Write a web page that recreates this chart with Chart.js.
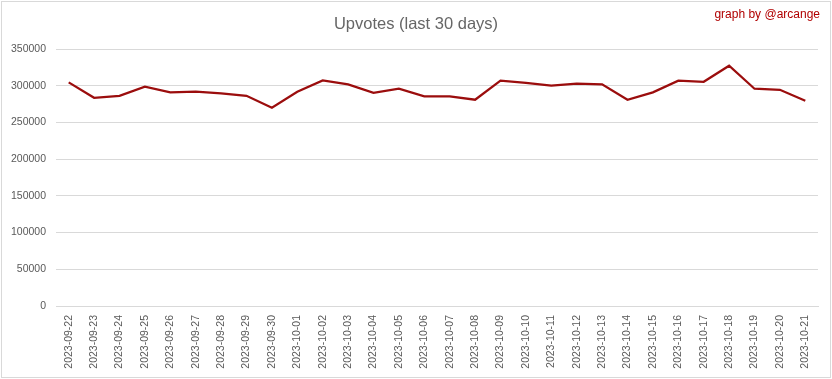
<!DOCTYPE html>
<html>
<head>
<meta charset="utf-8">
<script src="https://cdn.jsdelivr.net/npm/chart.js@4.4.0/dist/chart.umd.min.js"></script>
<style>
  body { margin: 0; background: #fff; }
  #wrap { width: 832px; height: 379px; }
</style>
</head>
<body>
<div id="wrap"><canvas id="upvotes" width="832" height="379"></canvas></div>
<script>
// Upvotes per day
var days = ["2023-09-22", "2023-09-23", "2023-09-24", "2023-09-25", "2023-09-26", "2023-09-27",
    "2023-09-28", "2023-09-29", "2023-09-30", "2023-10-01", "2023-10-02", "2023-10-03",
    "2023-10-04", "2023-10-05", "2023-10-06", "2023-10-07", "2023-10-08", "2023-10-09",
    "2023-10-10", "2023-10-11", "2023-10-12", "2023-10-13", "2023-10-14", "2023-10-15",
    "2023-10-16", "2023-10-17", "2023-10-18", "2023-10-19", "2023-10-20", "2023-10-21"];
var upvotes = [304500, 283600, 286300, 298600, 290900, 291800,
    289500, 286300, 270000, 291800, 307200, 301800,
    290400, 295900, 285400, 285400, 280900, 306800,
    304000, 300000, 302700, 301800, 280900, 290900,
    306800, 305400, 327200, 295900, 294500, 279500];
var yMax = 350000;
var yStep = 50000;

var titleText = "Upvotes (last 30 days)";
var creditText = "graph by @arcange";

// title, credit and outer frame
var decorations = {
    id: "decorations",
    afterDraw: function (chart) {
        var ctx = chart.ctx;
        ctx.save();
        ctx.strokeStyle = "#d9d9d9";
        ctx.lineWidth = 1;
        ctx.strokeRect(1.5, 1.5, 829, 376);

        ctx.fillStyle = "#666666";
        ctx.font = "16.5px 'Liberation Sans', Arial, sans-serif";
        ctx.textAlign = "center";
        ctx.textBaseline = "middle";
        ctx.fillText(titleText, 416, 24);

        ctx.fillStyle = "#b00000";
        ctx.font = "12px 'Liberation Sans', Arial, sans-serif";
        ctx.textAlign = "right";
        ctx.fillText(creditText, 820, 15);
        ctx.restore();
    }
};

new Chart(document.getElementById("upvotes"), {
    type: "line",
    data: {
        labels: days,
        datasets: [{
            data: upvotes,
            borderColor: "#9b0d0d",
            borderWidth: 2.25,
            pointRadius: 0,
            tension: 0,
            fill: false
        }]
    },
    options: {
        responsive: false,
        animation: false,
        layout: { padding: { left: 0, right: 14, top: 49, bottom: 0 } },
        plugins: {
            legend: { display: false },
            tooltip: { enabled: false }
        },
        scales: {
            x: {
                offset: true,
                grid: { display: false, drawTicks: false },
                border: { color: "#d9d9d9" },
                ticks: {
                    autoSkip: false,
                    maxRotation: 90,
                    minRotation: 90,
                    padding: 9,
                    color: "#595959",
                    font: { family: "'Liberation Sans', Arial, sans-serif", size: 10.5 }
                },
                afterFit: function (scale) { scale.height = 73; }
            },
            y: {
                min: 0,
                max: yMax,
                grid: { color: "#d9d9d9", drawTicks: false },
                border: { display: false },
                ticks: {
                    stepSize: yStep,
                    padding: 10,
                    color: "#595959",
                    font: { family: "'Liberation Sans', Arial, sans-serif", size: 10.5 },
                    callback: function (value) { return String(value); }
                },
                afterFit: function (scale) { scale.width = 56; }
            }
        }
    },
    plugins: [decorations]
});
</script>
</body>
</html>
